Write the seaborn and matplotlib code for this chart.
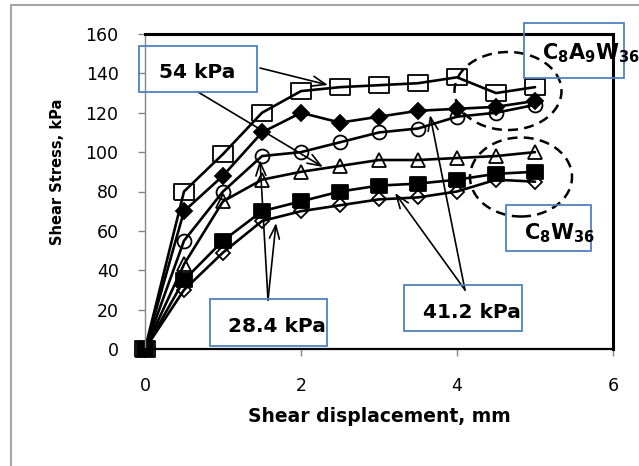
import numpy as np
import pandas as pd
import matplotlib
matplotlib.use("Agg")
import matplotlib.pyplot as plt
from matplotlib.patches import Rectangle, Ellipse
from matplotlib.lines import Line2D
import seaborn as sns

# shear displacement (mm)
disp = [0, 0.5, 1, 1.5, 2, 2.5, 3, 3.5, 4, 4.5, 5]

# C8A9W36 / C8W36 at three normal stresses (shear stress, kPa)
sq_open = [0, 80, 99, 120, 131, 133, 134, 135, 138, 130, 133]
dia_fill = [0, 70, 88, 110, 120, 115, 118, 121, 122, 123, 126]
circ_open = [0, 55, 80, 98, 100, 105, 110, 112, 118, 120, 124]
tri_open = [0, 43, 75, 86, 90, 93, 96, 96, 97, 98, 100]
sq_fill = [0, 35, 55, 70, 75, 80, 83, 84, 86, 89, 90]
dia_open = [0, 30, 49, 65, 70, 73, 76, 77, 80, 86, 85]

yticks = [0, 20, 40, 60, 80, 100, 120, 140, 160]
xticks = [0, 2, 4, 6]

sns.set_style("white")
plt.rcParams["font.family"] = ["DejaVu Sans"]
plt.rcParams["mathtext.fontset"] = "dejavusans"
plt.rcParams["text.color"] = "black"
plt.rcParams["axes.labelcolor"] = "black"

W, H = 639, 466
fig = plt.figure(figsize=(W / 100, H / 100), dpi=100)
ax = fig.add_axes([145 / W, 1 - 349 / H, (613 - 145) / W, (349 - 34) / H])

# the source picture is a bit wider than tall, so squares are too
wide_sq = [(-1.2, -1), (1.2, -1), (1.2, 1), (-1.2, 1), (-1.2, -1)]

# marker, size, face colour for each series
series = [
    (sq_open, wide_sq, 14, "none"),
    (tri_open, "^", 10, "none"),
    (circ_open, "o", 10, "none"),
    (dia_fill, "D", 8.5, "black"),
    (sq_fill, wide_sq, 12, "black"),
    (dia_open, "D", 7, "none"),
]
for vals, mk, ms, fc in series:
    df = pd.DataFrame({"x": disp, "y": vals})
    sns.lineplot(data=df, x="x", y="y", ax=ax, color="black", lw=1.9,
                 marker=mk, markersize=ms, markerfacecolor=fc,
                 markeredgecolor="black", markeredgewidth=1.3,
                 legend=False, clip_on=False)

ax.set_xlim(0, 6)
ax.set_ylim(0, 160)
ax.set_xticks(xticks)
ax.set_yticks(yticks)
ax.set_xlabel("")
ax.set_ylabel("")
ax.tick_params(axis="both", direction="out", length=5, width=1,
               color="#868686", labelsize=12.5, labelcolor="black")
ax.tick_params(axis="y", pad=14, left=True)
ax.tick_params(axis="x", pad=15, bottom=True)
for s in ["top", "right"]:
    ax.spines[s].set_color("black")
    ax.spines[s].set_linewidth(2.2)
ax.spines["bottom"].set_color("black")
ax.spines["bottom"].set_linewidth(1.6)
ax.spines["left"].set_color("#868686")
ax.spines["left"].set_linewidth(1.0)

fig.text(379 / W, 1 - 417 / H, "Shear displacement, mm", ha="center", va="center",
         fontsize=13.5, fontweight="bold", color="black")
fig.text(58 / W, 1 - 172 / H, "Shear Stress, kPa", ha="center", va="center",
         rotation=90, fontsize=10.5, fontweight="bold", color="black")

# outer chart border (partially visible)
fig.add_artist(Line2D([11 / W, 1], [1 - 5 / H] * 2, transform=fig.transFigure,
                      color="#a6a6a6", lw=1.5))
fig.add_artist(Line2D([11 / W] * 2, [0, 1 - 5 / H], transform=fig.transFigure,
                      color="#a6a6a6", lw=1.5))


def fpx(x, y):
    return (x, H - y)


# dashed ellipses
for cx, cy, ew, eh in [(508, 91, 107, 78), (521, 177, 102, 79)]:
    fig.add_artist(Ellipse((cx / W, 1 - cy / H), ew / W, eh / H,
                           transform=fig.transFigure, fill=False, ec="black",
                           lw=1.8, ls=(0, (4, 2.5))))

# label boxes
for x0, y0, x1, y1 in [(139, 46, 257, 92), (524, 23, 624, 78), (506, 205, 591, 251),
                       (404, 285, 522, 331), (210, 299, 327, 346)]:
    fig.add_artist(Rectangle((x0 / W, 1 - y1 / H), (x1 - x0) / W, (y1 - y0) / H,
                             transform=fig.transFigure, fill=False,
                             ec="#4F81BD", lw=1.3))

fig.text(197 / W, 1 - 73 / H, "54 kPa", ha="center", va="center",
         fontsize=14.5, fontweight="bold", color="black")
fig.text(277 / W, 1 - 327 / H, "28.4 kPa", ha="center", va="center",
         fontsize=14.5, fontweight="bold", color="black")
fig.text(472 / W, 1 - 312 / H, "41.2 kPa", ha="center", va="center",
         fontsize=14.5, fontweight="bold", color="black")
fig.text(542 / W, 1 - 53 / H, r"$\mathbf{C_8A_9W_{36}}$", ha="left", va="center",
         fontsize=15, color="black")
fig.text(524 / W, 1 - 233 / H, r"$\mathbf{C_8W_{36}}$", ha="left", va="center",
         fontsize=15, color="black")

# arrows
arrows = [((260, 68), (328, 85)), ((198, 92), (323, 167)),
          ((268, 300), (260, 160)), ((268, 300), (276, 223)),
          ((465, 290), (395, 193)), ((465, 290), (430, 115))]
for (sx, sy), (tx, ty) in arrows:
    ax.annotate("", xy=fpx(tx, ty), xycoords="figure pixels",
                xytext=fpx(sx, sy), textcoords="figure pixels",
                arrowprops=dict(arrowstyle="->,head_length=0.8,head_width=0.3",
                                color="black", lw=1.2, mutation_scale=12,
                                shrinkA=0, shrinkB=0))

fig.savefig("out.png", dpi=100)
